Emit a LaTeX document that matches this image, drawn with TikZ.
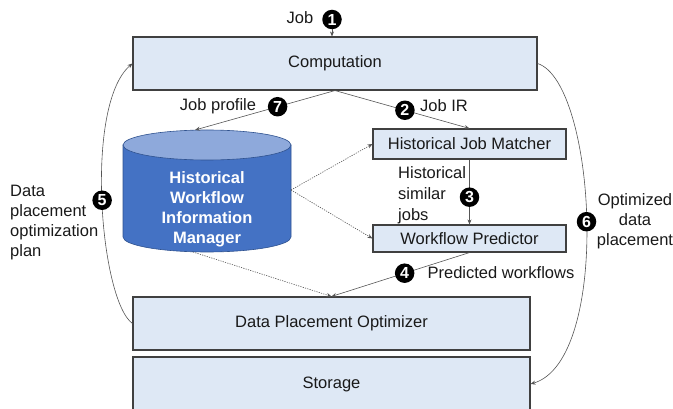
\documentclass[tikz,border=0pt]{standalone}
\usepackage{fontspec}
\setmainfont{Liberation Sans}
\usetikzlibrary{arrows.meta}
\definecolor{boxfill}{HTML}{DEE8F5}
\definecolor{boxline}{HTML}{404040}
\definecolor{arrgray}{HTML}{555555}
\definecolor{cylbody}{HTML}{4472C4}
\definecolor{cyltop}{HTML}{8EA9DB}
\definecolor{cylline}{HTML}{2F528F}
\tikzset{
  every node/.style={font=\fontsize{16.5}{20}\selectfont, text=black!90},
  layer/.style={draw=boxline, line width=1.1pt, fill=boxfill, inner sep=0pt},
  arr/.style={draw=arrgray, line width=0.6pt, -{Stealth[length=5pt,width=4pt]}},
  dotarr/.style={arr, dash pattern=on 1.2pt off 1.2pt},
  badge/.style={circle, fill=black, inner sep=0pt, minimum size=19.5pt,
     font=\fontsize{16}{16}\selectfont\bfseries, text=white},
  cyltext/.style={align=center, text=white, font=\fontsize{16.5}{20}\selectfont\bfseries},
  lbl/.style={inner sep=0pt}
}
\begin{document}
\begin{tikzpicture}[x=1pt,y=-1pt]
\useasboundingbox (0,0) rectangle (673,409);

% layers
\node[layer, minimum width=404pt, minimum height=53pt] (comp) at (335,63.5) {Computation};
\node[layer, minimum width=193pt, minimum height=30pt] (hjm) at (469.5,144) {Historical Job Matcher};
\node[layer, minimum width=193pt, minimum height=27pt] (wfp) at (469.5,238.5) {Workflow Predictor};
\node[layer, minimum width=397pt, minimum height=53pt] (dpo) at (331.5,323.5) {Data Placement Optimizer};
\node[layer, minimum width=397pt, minimum height=54pt] (stor) at (331.5,384) {Storage};

% cylinder
\path[fill=cylbody, draw=cylline, line width=0.6pt] (123,145) -- (123,237)
  arc[start angle=180, end angle=0, x radius=84, y radius=15] -- (291,145) -- cycle;
\path[fill=cyltop, draw=cylline, line width=0.6pt] (207,145) ellipse [x radius=84, y radius=15];
\node[cyltext] (hwim) at (207,209) {Historical\\Workflow\\Information\\Manager};
\coordinate (cylT) at (195,130);
\coordinate (cylR) at (291,190);
\coordinate (cylB) at (193,252);

% job input
\node[badge] (b1) at (332,19.5) {1};
\node[lbl] (job) at (300,18) {Job};
\draw[arr] (b1.south) -- (b1.south |- comp.north);

% computation outputs
\draw[arr] (comp.south) -- node[badge, pos=0.41] (b7) {7} (cylT);
\draw[arr] (comp.south) -- node[badge, pos=0.52] (b2) {2} (hjm.north);
\node[lbl] (jp) at (218,106) {Job profile};
\node[lbl] (jir) at (444,106) {Job IR};

% matcher to predictor
\draw[arr] (hjm.south) -- node[badge, pos=0.58] (b3) {3} (wfp.north);
\node[lbl, anchor=west, align=left, font=\fontsize{16.5}{21}\selectfont] (hsj) at (398,195) {Historical\\similar\\jobs};

% dotted from cylinder
\draw[dotarr] (cylR) -- (hjm.west);
\draw[dotarr] (cylR) -- (wfp.west);
\draw[dotarr] (cylB) -- (dpo.north);

% predictor to optimizer
\draw[arr] (wfp.south) -- node[badge, pos=0.47] (b4) {4} (dpo.north);
\node[lbl] (pw) at (501,273) {Predicted workflows};

% feedback loops
\draw[arr] (dpo.west) .. controls (100,300) and (84,105) .. node[badge, pos=0.5] (b5) {5} (comp.west);
\node[lbl, anchor=west, align=left] (dpop) at (10,223) {Data\\placement\\optimization\\plan};
\draw[arr] (comp.east) .. controls (596,82) and (612,360) .. node[badge, pos=0.5] (b6) {6} (stor.east);
\node[lbl, align=center] (odp) at (635,221) {Optimized\\data\\placement};
\end{tikzpicture}
\end{document}
